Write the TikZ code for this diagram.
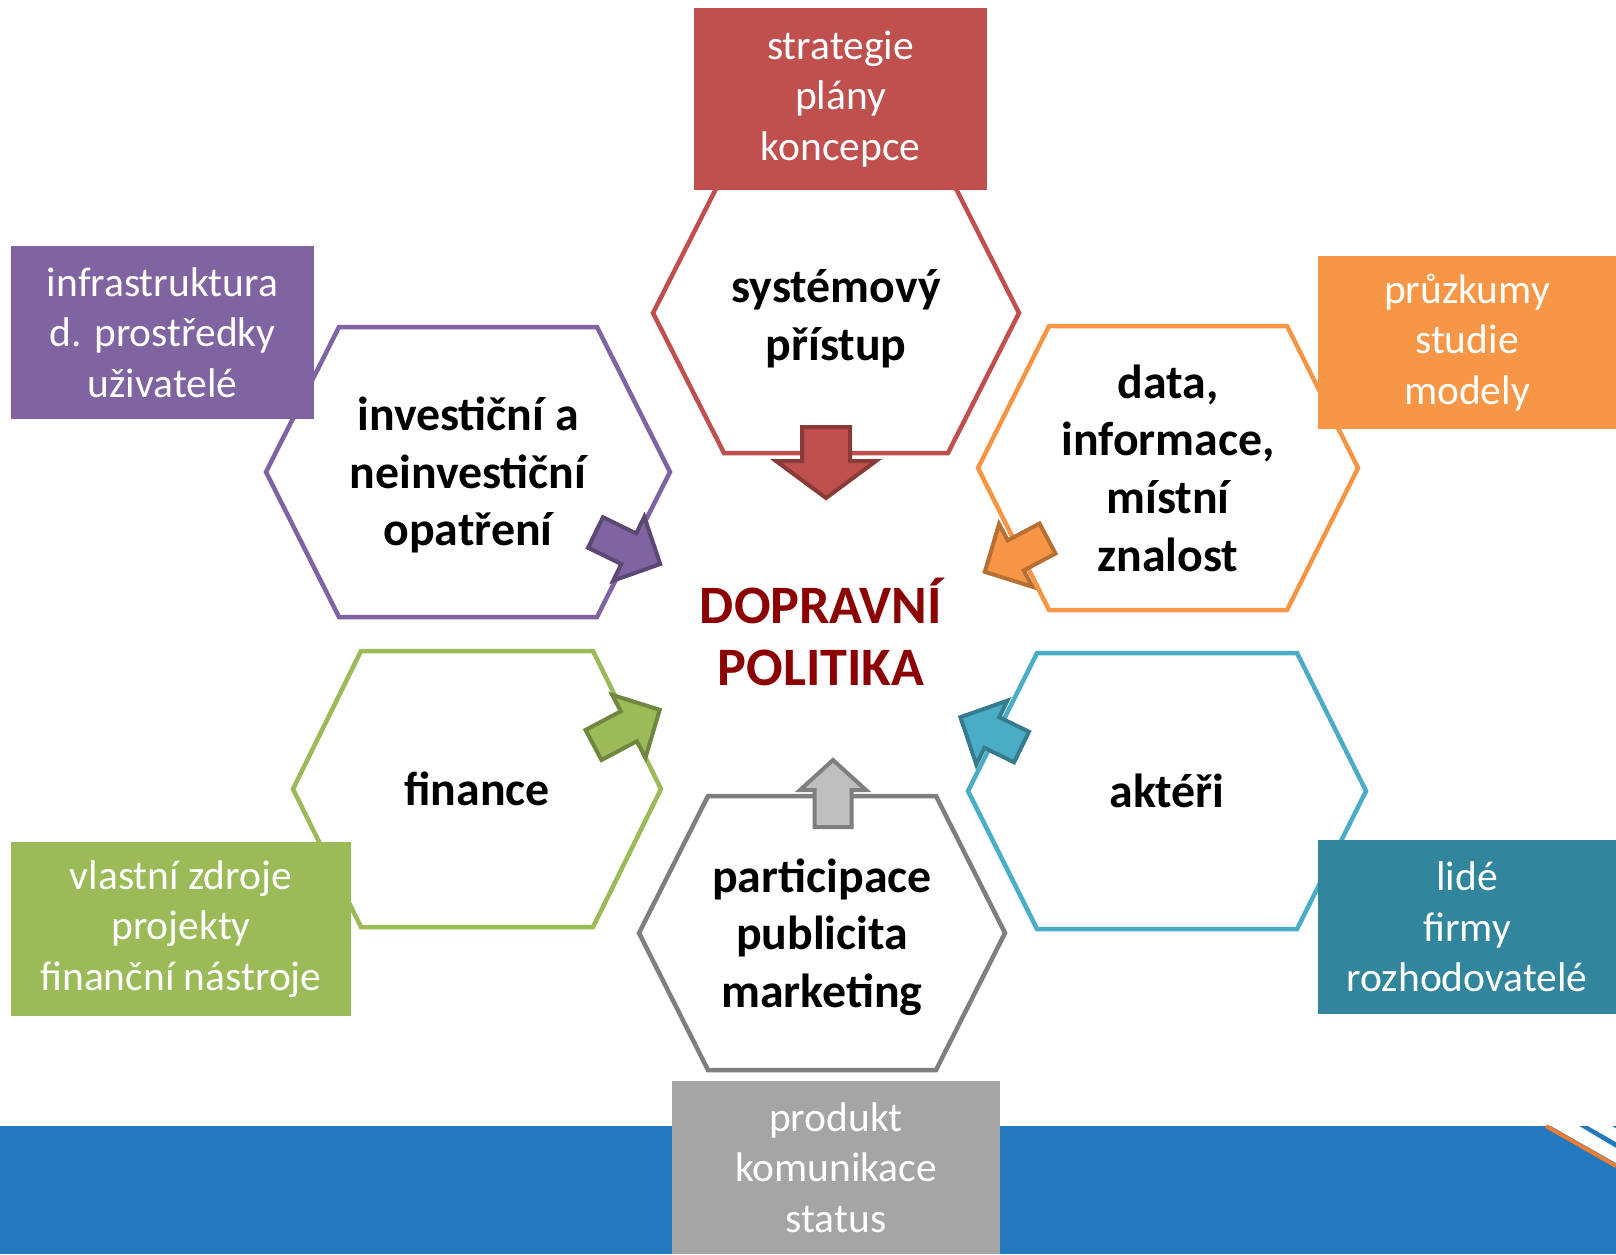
\documentclass[tikz,border=0pt]{standalone}
\usepackage{fontspec}
\setmainfont{Carlito}
\usetikzlibrary{calc}

\definecolor{cred}{HTML}{C0504D}
\definecolor{cpurple}{HTML}{8064A2}
\definecolor{corange}{HTML}{F79646}
\definecolor{cgreen}{HTML}{9BBB59}
\definecolor{cteal}{HTML}{31859C}
\definecolor{caqua}{HTML}{4BACC6}
\definecolor{cgray}{HTML}{A5A5A5}
\definecolor{cdgray}{HTML}{7F7F7F}
\definecolor{clgray}{HTML}{BFBFBF}
\definecolor{ctitle}{HTML}{8B0000}
\definecolor{cband}{HTML}{2479BE}
\definecolor{cstripe}{HTML}{ED7D31}

\newcommand{\hexagon}[5]{%
  \draw[hexline,#5] ($(#1)+(-#2,0)$) -- ($(#1)+(-#4,-#3)$) -- ($(#1)+(#4,-#3)$)
    -- ($(#1)+(#2,0)$) -- ($(#1)+(#4,#3)$) -- ($(#1)+(-#4,#3)$) -- cycle;}
\newcommand{\blockarrow}[7]{%
  \begin{scope}[shift={(#1)},rotate=#2]
    \draw[arrowpart,#7] (0,-#4) -- ({#3-#6},-#4) -- ({#3-#6},-#5) -- (#3,0)
      -- ({#3-#6},#5) -- ({#3-#6},#4) -- (0,#4) -- cycle;
  \end{scope}}

\begin{document}
\begin{tikzpicture}[x=0.01cm,y=-0.01cm,
    hexline/.style={line width=0.045cm,line join=miter},
    hextext/.style={font=\fontsize{13.6}{16.4}\selectfont\bfseries,align=center,inner sep=0pt},
    infobox/.style={text=white,font=\fontsize{11.8}{14.4}\selectfont,align=center,inner sep=0pt},
    arrowpart/.style={line width=0.04cm,line join=miter}]
    \useasboundingbox (0,0) rectangle (1616,1254);

    \fill[cband] (0,1126) rectangle (1616,1254);
    \fill[white] (1551,1126) -- (1579,1126) -- (1616,1148) -- (1616,1163) -- cycle;
    \fill[white] (1588,1126) -- (1612,1126) -- (1616,1128.3) -- (1616,1142) -- cycle;
    \draw[cstripe,line width=0.04cm] (1546,1126) -- (1616,1166);

    \coordinate (sysc) at (836,313);
    \coordinate (invc) at (468,472);
    \coordinate (parc) at (822,933);
    \node[hextext](sys)at(836,319){systémový\\přístup};
    \node[hextext](inv)at(468,475){investiční a\\neinvestiční\\opatření};
    \node[hextext](data)at(1168,468){data,\\informace,\\místní\\znalost};
    \node[hextext](fin)at(477,789){finance};
    \node[hextext](akt)at(1167,791){aktéři};
    \node[hextext](par)at(822,937){participace\\publicita\\marketing};
    \node[font=\fontsize{15.4}{17.8}\selectfont\bfseries,text=ctitle,align=center,inner sep=0pt](dp)at(821,632){DOPRAVNÍ\\POLITIKA};

    \hexagon{sysc}{183}{140}{112}{cred}
    \hexagon{invc}{202}{145}{129}{cpurple}
    \hexagon{data}{190}{142}{119}{corange}
    \hexagon{fin}{184}{138}{116}{cgreen}
    \hexagon{akt}{199}{138}{130}{caqua}
    \hexagon{parc}{183}{137}{114}{cdgray}

    \blockarrow{826,427}{-90}{71}{24}{50}{37}{fill=cred,draw=cred!72!black}
    \blockarrow{833,827}{90}{67}{18.5}{33}{30}{fill=clgray,draw=cdgray}
    \blockarrow{595.5,532.5}{-26}{72}{17}{35.5}{35}{fill=cpurple,draw=cpurple!72!black}
    \blockarrow{1047.5,538.5}{208}{71}{17}{35.5}{35}{fill=corange,draw=corange!74!black}
    \blockarrow{1021.5,747}{154}{68}{17}{35.5}{35}{fill=caqua,draw=caqua!72!black}
    \blockarrow{593.5,745}{28}{75}{17}{35.5}{35}{fill=cgreen,draw=cgreen!72!black}

    \node[infobox,fill=cred,minimum width=2.93cm,minimum height=1.82cm](strat)at(840.5,99){strategie\\plány\\koncepce};
    \node[infobox,fill=cpurple,minimum width=3.03cm,minimum height=1.73cm](infra)at(162.5,332.5){infrastruktura\\d. prostředky\\uživatelé};
    \node[infobox,fill=corange,minimum width=2.98cm,minimum height=1.73cm](pruz)at(1467,342.5){průzkumy\\studie\\modely};
    \node[infobox,fill=cgreen,minimum width=3.40cm,minimum height=1.74cm](vlast)at(181,929){vlastní zdroje\\projekty\\finanční nástroje};
    \node[infobox,fill=cteal,minimum width=2.98cm,minimum height=1.74cm](lide)at(1467,927){lidé\\firmy\\rozhodovatelé};
    \node[infobox,fill=cgray,minimum width=3.28cm,minimum height=1.73cm](prod)at(836,1167.5){produkt\\komunikace\\status};
\end{tikzpicture}
\end{document}
